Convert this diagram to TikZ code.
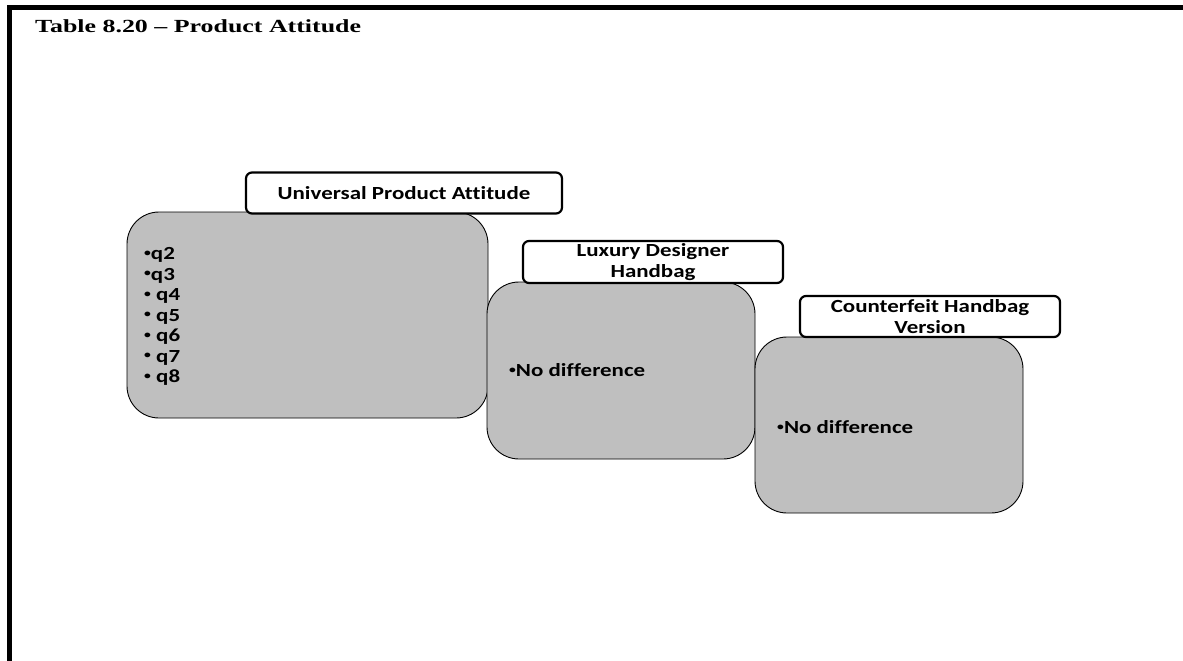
\documentclass[tikz,border=0pt]{standalone}
\usepackage{fontspec}
\newfontfamily\titlefont[FakeStretch=1.4]{Liberation Serif}
\newfontfamily\boxfont[FakeStretch=1.24, Ligatures=NoCommon]{Carlito}
\definecolor{panelgray}{RGB}{191,191,191}
% small raised bullet used in the panel lists
\newcommand\listdot{\raisebox{0.35ex}{\fontsize{11}{11}\selectfont•}}
\begin{document}
\begin{tikzpicture}[x=1pt,y=-1pt,
  panel/.style={draw=black, line width=0.9pt, fill=panelgray, rounded corners=32pt, inner sep=0pt},
  tag/.style={draw=black, line width=2.2pt, fill=white, rounded corners=6pt, inner sep=0pt,
    align=center, font=\boxfont\bfseries\fontsize{18.5}{21}\selectfont},
  item/.style={anchor=west, inner sep=0pt, align=left,
    font=\boxfont\bfseries\fontsize{18.5}{20.5}\selectfont}]
  % page and frame
  \fill[white] (0,0) rectangle (1183,661);
  \useasboundingbox (0,0) rectangle (1183,661);
  \draw[line width=5pt] (9.5,661) -- (9.5,7.5) -- (1183,7.5);
  \node[anchor=base west, inner sep=0pt, font=\titlefont\bfseries\fontsize{18.5}{20}\selectfont]
    (title) at (35,33) {Table 8.20 – Product Attitude};

  % universal attitude panel
  \node[panel, minimum width=361pt, minimum height=206pt] (univ) at (307.5,315) {};
  \node[tag, minimum width=316pt, minimum height=41pt] (univtag) at (404,193) {Universal Product Attitude};
  \node[item] (univitems) at (144,316.5)
    {\listdot q2\\\listdot q3\\\listdot{} q4\\\listdot{} q5\\\listdot{} q6\\\listdot{} q7\\\listdot{} q8};

  % luxury designer panel
  \node[panel, minimum width=268pt, minimum height=177pt] (lux) at (621,370.5) {};
  \node[tag, minimum width=260pt, minimum height=42pt] (luxtag) at (653,262) {Luxury Designer\\Handbag};
  \node[item] (luxitems) at (509,370) {\listdot No difference};

  % counterfeit panel
  \node[panel, minimum width=268pt, minimum height=176pt] (fake) at (889,425) {};
  \node[tag, minimum width=260pt, minimum height=41pt] (faketag) at (930,316.5) {Counterfeit Handbag\\Version};
  \node[item] (fakeitems) at (777,427) {\listdot No difference};
\end{tikzpicture}
\end{document}
